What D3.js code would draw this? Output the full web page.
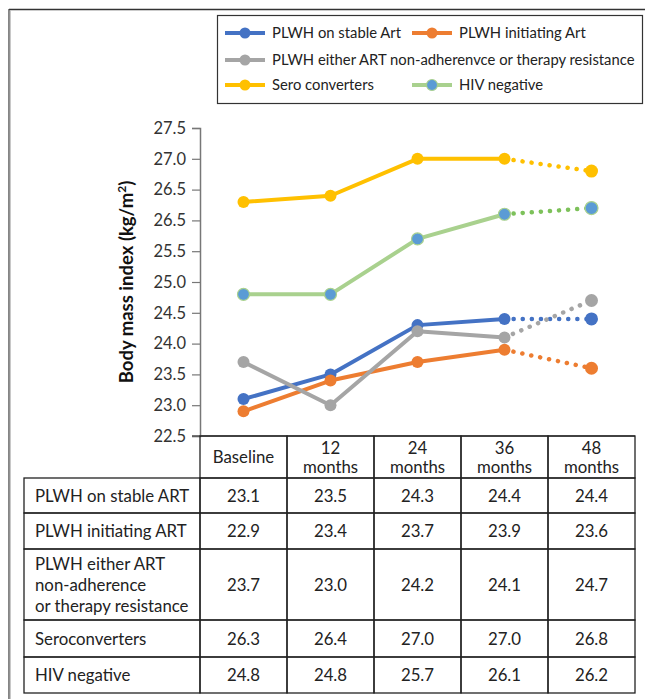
<!DOCTYPE html>
<html>
<head>
<meta charset="utf-8">
<script src="https://cdn.jsdelivr.net/npm/d3@7"></script>
<style>
  body { margin: 0; background: #fff; }
  svg text { font-family: Lato, "Open Sans", sans-serif; fill: #222; }
</style>
</head>
<body>
<div id="chart"></div>
<script>
// DATA
const timepoints = ["Baseline", "12 months", "24 months", "36 months", "48 months"];
const headerLines = [["Baseline"], ["12", "months"], ["24", "months"], ["36", "months"], ["48", "months"]];

const legendNames = ["PLWH on stable Art", "PLWH initiating Art",
    "PLWH either ART non-adherenvce or therapy resistance", "Sero converters", "HIV negative"];
const rowLabels = [["PLWH on stable ART"], ["PLWH initiating ART"],
    ["PLWH either ART", "non-adherence", "or therapy resistance"], ["Seroconverters"], ["HIV negative"]];

const stableArt = [23.1, 23.5, 24.3, 24.4, 24.4];
const initiatingArt = [22.9, 23.4, 23.7, 23.9, 23.6];
const nonAdherence = [23.7, 23.0, 24.2, 24.1, 24.7];
const seroconverters = [26.3, 26.4, 27.0, 27.0, 26.8];
const hivNegative = [24.8, 24.8, 25.7, 26.1, 26.2];

const yTicks = [22.5, 23.0, 23.5, 24.0, 24.5, 25.0, 25.5, 26.0, 26.5, 27.0, 27.5];
const yTickLabels = ["22.5", "23.0", "23.5", "24.0", "24.5", "25.0", "25.5", "26.5", "26.5", "27.0", "27.5"];

// styles per series
const allSeries = [stableArt, initiatingArt, nonAdherence, seroconverters, hivNegative];
const lineColors = ["#4472C4", "#ED7D31", "#A5A5A5", "#FFC000", "#A9D18E"];
const dotColors = ["#4472C4", "#ED7D31", "#A5A5A5", "#FFC000", "#7DC15A"];
const markerFill = ["#4472C4", "#ED7D31", "#A5A5A5", "#FFC000", "#5B9BD5"];

const series = allSeries.map((vals, i) => ({
    name: legendNames[i],
    values: vals.map((v, j) => ({ t: timepoints[j], v: v })),
    line: lineColors[i], dot: dotColors[i], fill: markerFill[i]
}));

// 1: SVG
const W = 645, H = 699;
const svg = d3.select("#chart").append("svg")
    .attr("width", W)
    .attr("height", H);

// outer frame (top and left rules)
svg.append("line").attr("x1", 9).attr("x2", W).attr("y1", 9.5).attr("y2", 9.5)
    .attr("stroke", "#333").attr("stroke-width", 1.3);
svg.append("line").attr("x1", 9).attr("x2", 9).attr("y1", 9).attr("y2", H)
    .attr("stroke", "#444").attr("stroke-width", 1.3);
svg.append("line").attr("x1", 10.3).attr("x2", 10.3).attr("y1", 10).attr("y2", H)
    .attr("stroke", "#bbb").attr("stroke-width", 1);

// 2: SCALES
const plotLeft = 200, plotRight = 635, plotTop = 128, plotBottom = 436;
const x = d3.scaleBand().domain(timepoints).range([plotLeft, plotRight]);
const y = d3.scaleLinear().domain([22.5, 27.5]).range([plotBottom, plotTop]);
const cx = t => x(t) + x.bandwidth() / 2;

// 3: Y AXIS
const yAxis = svg.append("g")
    .attr("transform", `translate(${plotLeft},0)`)
    .call(d3.axisLeft(y)
        .tickValues(yTicks)
        .tickSize(8)
        .tickPadding(6)
        .tickFormat((d, i) => yTickLabels[i]));
yAxis.select(".domain").attr("stroke", "#777").attr("stroke-width", 1.5);
yAxis.selectAll(".tick line").attr("stroke", "#777").attr("stroke-width", 1.2);
yAxis.selectAll(".tick text")
    .style("font-family", "Lato, sans-serif")
    .style("font-size", "16.5px")
    .style("fill", "#333");

// y axis title
const yTitle = svg.append("text")
    .attr("transform", `translate(133,${(plotTop + plotBottom) / 2}) rotate(-90)`)
    .attr("text-anchor", "middle")
    .style("font-size", "18.5px")
    .style("font-weight", "bold")
    .style("fill", "#111");
yTitle.append("tspan").text("Body mass index (kg/m");
yTitle.append("tspan").attr("baseline-shift", "super").style("font-size", "12px").text("2");
yTitle.append("tspan").text(")");

// x axis line
svg.append("line")
    .attr("x1", plotLeft - 8).attr("x2", plotRight)
    .attr("y1", plotBottom).attr("y2", plotBottom)
    .attr("stroke", "#555").attr("stroke-width", 1.5);

// 4: LINES
const line = d3.line().x(d => cx(d.t)).y(d => y(d.v));

series.forEach(s => {
    const solid = s.values.slice(0, 4);
    const dotted = s.values.slice(3);
    svg.append("path")
        .datum(solid)
        .attr("d", line)
        .attr("fill", "none")
        .attr("stroke", s.line)
        .attr("stroke-width", 4)
        .attr("stroke-linejoin", "round");
    svg.append("path")
        .datum(dotted)
        .attr("d", line)
        .attr("fill", "none")
        .attr("stroke", s.dot)
        .attr("stroke-width", 4.5)
        .attr("stroke-linecap", "round")
        .attr("stroke-dasharray", "0.1,9");
});

// markers
series.forEach(s => {
    svg.selectAll(null)
        .data(s.values)
        .enter()
        .append("circle")
        .attr("cx", d => cx(d.t))
        .attr("cy", d => y(d.v))
        .attr("r", (d, i) => i === 4 ? 6.5 : 6)
        .attr("fill", s.fill)
        .attr("stroke", s.line)
        .attr("stroke-width", s.fill === s.line ? 0 : 1.2);
});

// 5: LEGEND
svg.append("rect")
    .attr("x", 217.5).attr("y", 15.5)
    .attr("width", 425).attr("height", 88)
    .attr("fill", "#fff")
    .attr("stroke", "#333").attr("stroke-width", 1.2);

const legendPos = [[225, 33], [412, 33], [225, 60], [225, 85], [412, 85]];
series.forEach((s, i) => {
    const [lx, ly] = legendPos[i];
    const g = svg.append("g").attr("transform", `translate(${lx},${ly})`);
    g.append("line").attr("x1", 0).attr("x2", 40).attr("y1", 0).attr("y2", 0)
        .attr("stroke", s.line).attr("stroke-width", 4);
    g.append("circle").attr("cx", 20).attr("cy", 0).attr("r", 5.5)
        .attr("fill", s.fill).attr("stroke", s.line)
        .attr("stroke-width", s.fill === s.line ? 0 : 1.2);
    g.append("text").attr("x", 47).attr("y", 5)
        .style("font-size", "14.8px")
        .text(s.name);
});

// 6: TABLE
const tableLeft = 24;
const rowHeights = [35, 36, 71, 37, 36];
const headerTop = plotBottom, headerBottom = 478;
const border = "#222";
const tableFont = "16.8px";

// header cells
timepoints.forEach((t, j) => {
    svg.append("rect")
        .attr("x", x(t)).attr("y", headerTop)
        .attr("width", x.bandwidth()).attr("height", headerBottom - headerTop)
        .attr("fill", "none").attr("stroke", border).attr("stroke-width", 1.3);
    const lines = headerLines[j];
    const mid = (headerTop + headerBottom) / 2;
    lines.forEach((ln, k) => {
        svg.append("text")
            .attr("x", cx(t))
            .attr("y", mid + 6 + (k - (lines.length - 1) / 2) * 19)
            .attr("text-anchor", "middle")
            .style("font-size", tableFont)
            .text(ln);
    });
});

// body rows
let rowTop = headerBottom;
series.forEach((s, i) => {
    const h = rowHeights[i];
    const mid = rowTop + h / 2;
    svg.append("rect")
        .attr("x", tableLeft).attr("y", rowTop)
        .attr("width", plotLeft - tableLeft).attr("height", h)
        .attr("fill", "none").attr("stroke", border).attr("stroke-width", 1.3);
    const lines = rowLabels[i];
    lines.forEach((ln, k) => {
        svg.append("text")
            .attr("x", tableLeft + 11)
            .attr("y", mid + 6 + (k - (lines.length - 1) / 2) * 21)
            .style("font-size", tableFont)
            .text(ln);
    });
    s.values.forEach(d => {
        svg.append("rect")
            .attr("x", x(d.t)).attr("y", rowTop)
            .attr("width", x.bandwidth()).attr("height", h)
            .attr("fill", "none").attr("stroke", border).attr("stroke-width", 1.3);
        svg.append("text")
            .attr("x", cx(d.t)).attr("y", mid + 6)
            .attr("text-anchor", "middle")
            .style("font-size", tableFont)
            .text(d.v.toFixed(1));
    });
    rowTop += h;
});
</script>
</body>
</html>
